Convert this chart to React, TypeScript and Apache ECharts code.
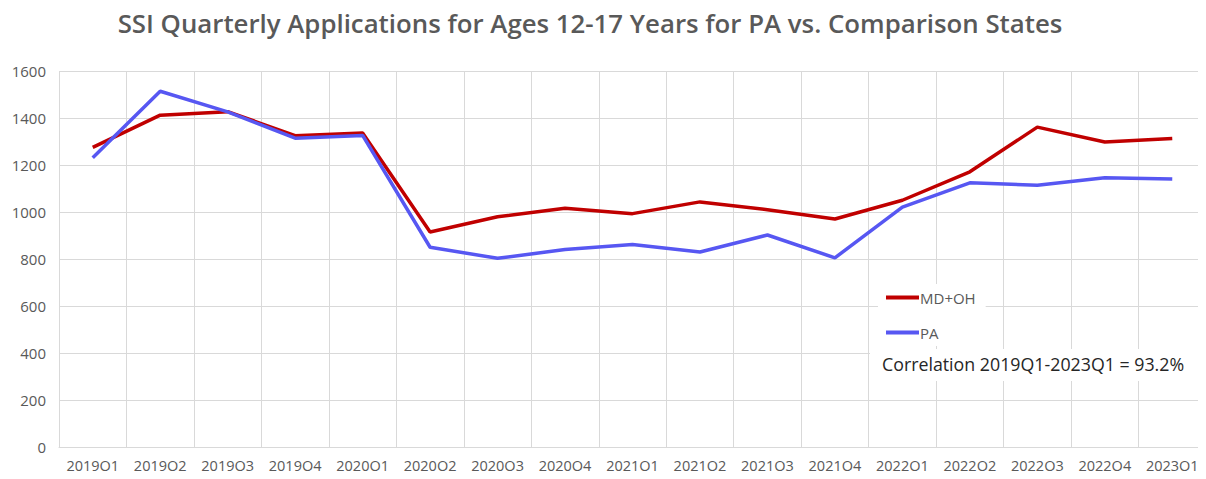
import React, { useEffect, useRef } from "react";
import * as echarts from "echarts";

const categories = [
  "2019Q1", "2019Q2", "2019Q3", "2019Q4", "2020Q1", "2020Q2", "2020Q3", "2020Q4",
  "2021Q1", "2021Q2", "2021Q3", "2021Q4", "2022Q1", "2022Q2", "2022Q3", "2022Q4", "2023Q1",
];
const mdOh = [1275, 1412, 1427, 1325, 1336, 915, 980, 1016, 993, 1043, 1010, 970, 1050, 1171, 1361, 1298, 1313];
const pa = [1231, 1514, 1426, 1314, 1326, 850, 803, 840, 862, 830, 902, 805, 1021, 1124, 1114, 1146, 1140];
const title = "SSI Quarterly Applications for Ages 12-17 Years for PA vs. Comparison States";
const note = "Correlation 2019Q1-2023Q1 = 93.2%";

export default function App() {
  const ref = useRef<HTMLDivElement>(null);
  useEffect(() => {
    if (!ref.current) return;
    const chart = echarts.init(ref.current, undefined, { renderer: "svg" });
    const font = "Open Sans";
    chart.setOption({
      animation: false,
      backgroundColor: "#ffffff",
      textStyle: { fontFamily: font },
      title: {
        text: title,
        left: 585,
        textAlign: "center",
        top: 5,
        textStyle: { fontFamily: font, fontSize: 25.8, fontWeight: 600, color: "#595959" },
      },
      grid: { left: 59, top: 71, width: 1152, height: 376, containLabel: false },
      legend: {
        orient: "vertical",
        left: 878,
        top: 284,
        z: 20,
        backgroundColor: "#ffffff",
        padding: [6, 10, 6, 8],
        itemWidth: 33,
        itemHeight: 4,
        itemGap: 20,
        textStyle: { fontFamily: font, fontSize: 15, color: "#595959", padding: [0, 0, 0, -4] },
        data: [
          { name: "MD+OH", icon: "rect" },
          { name: "PA", icon: "rect" },
        ],
      },
      xAxis: {
        type: "category",
        data: categories,
        boundaryGap: true,
        axisLine: { show: true, lineStyle: { color: "#d9d9d9" } },
        axisTick: { show: false },
        splitLine: { show: true, lineStyle: { color: "#d9d9d9" } },
        axisLabel: { fontFamily: font, fontSize: 14.5, color: "#595959", margin: 11, interval: 0 },
      },
      yAxis: {
        type: "value",
        min: 0,
        max: 1600,
        interval: 200,
        axisLine: { show: false },
        axisTick: { show: false },
        splitLine: { lineStyle: { color: "#d9d9d9" } },
        axisLabel: {
          fontFamily: font,
          fontSize: 15,
          color: "#595959",
          margin: 13,
          formatter: (v: number) => String(v),
        },
      },
      graphic: [
        {
          type: "text",
          left: 870,
          top: 349,
          z: 100,
          style: {
            text: note,
            fontFamily: font,
            fontSize: 17.8,
            fill: "#262626",
            backgroundColor: "#ffffff",
            padding: [6, 14, 8, 12],
          },
        },
      ],
      series: [
        {
          name: "MD+OH",
          type: "line",
          data: mdOh,
          symbol: "none",
          lineStyle: { color: "#c00000", width: 3.5 },
          itemStyle: { color: "#c00000" },
        },
        {
          name: "PA",
          type: "line",
          data: pa,
          symbol: "none",
          lineStyle: { color: "#5757f2", width: 3.5 },
          itemStyle: { color: "#5757f2" },
        },
      ],
    });
    return () => chart.dispose();
  }, []);
  return <div ref={ref} style={{ width: 1206, height: 479, margin: -8 }} />;
}
